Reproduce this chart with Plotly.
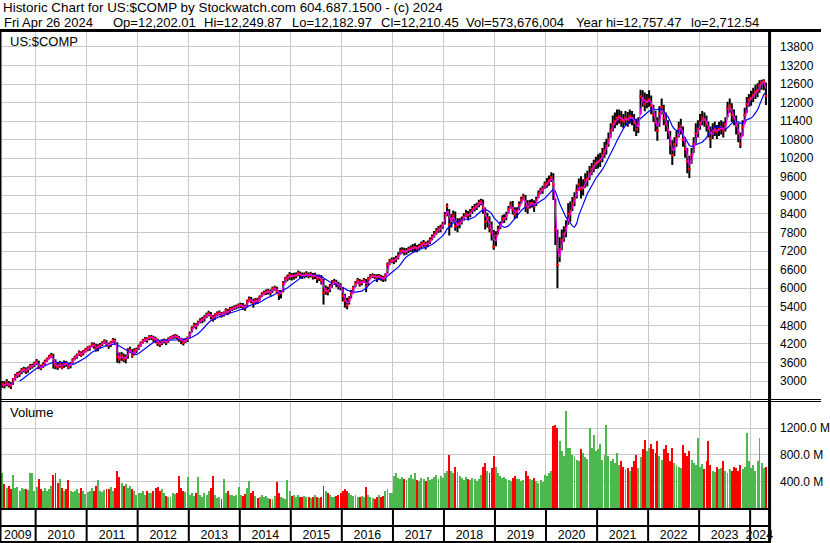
import pandas as pd
import plotly.graph_objects as go

# ---------------- data (semi-monthly samples) ----------------
first_date = pd.Timestamp("2009-04-23")
last_date = pd.Timestamp("2024-04-23")
dates = [pd.Timestamp(y, m, d) for y in range(2009, 2025) for m in range(1, 13) for d in (8, 23)
         if first_date <= pd.Timestamp(y, m, d) <= last_date]

close = [
    2830, 2900, 2870, 2950, 2880, 2850, 3050, 3150, 3220, 3250, 3350, 3380, 3330, 3400, 3480, 3480, 3570,
    3620, 3450, 3420, 3520, 3620, 3700, 3780, 3830, 3600, 3500, 3460, 3560, 3440, 3580, 3560, 3440, 3560, 3680, 3760, 3830, 3920, 3850, 3940, 4000,
    4050, 4080, 4180, 4150, 4050, 4120, 4150, 4230, 4280, 4180, 4150, 4230, 4320, 4280, 3780, 3700, 3820, 3700, 3760, 3980, 4000, 3820, 3980, 4000,
    4120, 4220, 4300, 4350, 4330, 4420, 4420, 4370, 4350, 4230, 4180, 4280, 4300, 4250, 4350, 4400, 4420, 4460, 4430, 4350, 4330, 4240, 4320, 4380,
    4520, 4700, 4800, 4780, 4880, 4950, 4980, 5060, 5130, 5180, 5100, 5000, 5120, 5180, 5200, 5120, 5180, 5280, 5220, 5320, 5340, 5380, 5400, 5440,
    5450, 5400, 5380, 5560, 5650, 5600, 5520, 5600, 5580, 5700, 5800, 5850, 5880, 5900, 5860, 5980, 6000, 5920, 5800, 5850, 6150, 6300, 6350, 6420,
    6380, 6400, 6420, 6480, 6430, 6400, 6420, 6460, 6400, 6450, 6380, 6420, 6300, 6350, 6250, 5850, 5950, 5880, 6050, 6180, 6200, 6150, 6080, 6050,
    5750, 5600, 5450, 5650, 5850, 6000, 6150, 6250, 6150, 6200, 6250, 6050, 6300, 6380, 6400, 6380, 6350, 6380, 6330, 6300, 6400, 6750, 6850, 6900,
    6900, 6950, 7050, 7200, 7220, 7180, 7200, 7250, 7280, 7300, 7320, 7280, 7350, 7420, 7450, 7380, 7450, 7550, 7650, 7750, 7850, 7900, 7950, 8050,
    8350, 8650, 8050, 8250, 8350, 8000, 8050, 8100, 8200, 8300, 8400, 8350, 8450, 8550, 8600, 8650, 8750, 8800, 8600, 8150, 8250, 7950, 7800, 7350,
    7700, 7900, 8050, 8250, 8250, 8350, 8550, 8700, 8550, 8380, 8500, 8700, 8850, 8950, 8650, 8600, 8750, 8750, 8650, 8850, 9050, 9150, 9200, 9350,
    9400, 9480, 9580, 9350, 7900, 6750, 7250, 7550, 7750, 7950, 8400, 8500, 8750, 8900, 9150, 9350, 9200, 9250, 9500, 9550, 9700, 9850, 9950, 10050,
    10100, 10150, 10300, 10450, 10600, 10800, 11100, 11300, 11400, 11500, 11550, 11450, 11400, 11500, 11450, 11550, 11500, 11350, 11150, 11300, 12200, 12150, 11950, 12050,
    12100, 11900, 11600, 11350, 11100, 11650, 11850, 11500, 11300, 11100, 10650, 10300, 10650, 10850, 11150, 11250, 10800, 10500, 10100, 9850, 10300, 10650, 11000, 11150,
    11350, 11500, 11450, 11300, 11150, 10850, 11100, 11150, 11050, 11150, 11200, 11100, 11300, 11800, 11900, 11600, 11500, 11250, 11000, 10650, 11200, 11600, 11950, 12100,
    12150, 12250, 12350, 12400, 12550, 12650, 12700, 12210,
]

high = [
    2950, 3000, 2990, 3060, 3000, 2960, 3100, 3230, 3290, 3330, 3420, 3460, 3440, 3470, 3550, 3560, 3630,
    3710, 3660, 3530, 3600, 3690, 3760, 3850, 3910, 3880, 3700, 3620, 3650, 3600, 3660, 3650, 3580, 3620, 3740, 3820, 3890, 3990, 3960, 4000, 4060,
    4120, 4150, 4250, 4240, 4200, 4190, 4230, 4290, 4350, 4320, 4240, 4290, 4390, 4370, 4250, 3920, 3940, 3890, 3860, 4060, 4110, 4030, 4060, 4080,
    4180, 4280, 4360, 4420, 4410, 4480, 4490, 4460, 4430, 4370, 4290, 4340, 4370, 4350, 4410, 4450, 4490, 4520, 4500, 4450, 4400, 4360, 4380, 4440,
    4600, 4770, 4880, 4870, 4950, 5030, 5070, 5130, 5210, 5270, 5230, 5130, 5190, 5250, 5280, 5230, 5250, 5350, 5330, 5390, 5410, 5450, 5470, 5510,
    5530, 5520, 5470, 5630, 5730, 5720, 5660, 5680, 5690, 5770, 5870, 5920, 5960, 5980, 5960, 6050, 6080, 6050, 5940, 5940, 6230, 6370, 6440, 6520,
    6490, 6500, 6510, 6570, 6540, 6510, 6510, 6550, 6510, 6530, 6490, 6500, 6440, 6440, 6420, 6300, 6090, 6050, 6140, 6260, 6300, 6270, 6210, 6160,
    6040, 5820, 5690, 5740, 5940, 6080, 6230, 6330, 6300, 6270, 6330, 6300, 6370, 6460, 6480, 6460, 6450, 6460, 6430, 6400, 6480, 6830, 6940, 6990,
    7000, 7050, 7160, 7310, 7320, 7310, 7300, 7340, 7380, 7430, 7450, 7400, 7440, 7510, 7560, 7510, 7540, 7640, 7740, 7850, 7950, 8010, 8050, 8150,
    8460, 8740, 8560, 8390, 8510, 8480, 8260, 8260, 8320, 8420, 8540, 8500, 8560, 8660, 8720, 8760, 8860, 8890, 8870, 8610, 8440, 8330, 8160, 7880,
    7840, 8020, 8160, 8360, 8390, 8470, 8660, 8800, 8820, 8620, 8620, 8800, 8960, 9050, 9010, 8840, 8860, 8880, 8840, 8960, 9160, 9250, 9310, 9450,
    9560, 9640, 9750, 9720, 8900, 7900, 7650, 7900, 8000, 8200, 8750, 8800, 8950, 9100, 9350, 9550, 9620, 9520, 9720, 9800, 9950, 10050, 10150, 10250,
    10330, 10380, 10530, 10730, 10830, 11030, 11330, 11580, 11680, 11780, 11780, 11730, 11630, 11730, 11700, 11780, 11730, 11630, 11480, 11530, 12420, 12400, 12330, 12280,
    12400, 12230, 11930, 11730, 11530, 11880, 12130, 11930, 11680, 11430, 11080, 10780, 10880, 11080, 11380, 11480, 11230, 10880, 10530, 10280, 10530, 10880, 11330, 11430,
    11630, 11730, 11680, 11580, 11380, 11230, 11330, 11380, 11280, 11380, 11430, 11380, 11530, 12030, 12130, 11980, 11780, 11580, 11330, 11030, 11430, 11830, 12180, 12280,
    12380, 12480, 12580, 12630, 12720, 12740, 12757, 12650,
]

low = [
    2712, 2780, 2760, 2830, 2790, 2740, 2880, 3020, 3100, 3130, 3220, 3280, 3230, 3270, 3360, 3400, 3450,
    3520, 3380, 3350, 3420, 3510, 3620, 3700, 3740, 3400, 3380, 3360, 3430, 3380, 3430, 3460, 3380, 3410, 3560, 3670, 3720, 3810, 3780, 3830, 3920,
    3960, 3980, 4090, 4040, 3950, 3960, 4070, 4130, 4200, 4110, 4040, 4100, 4230, 4180, 3590, 3570, 3650, 3610, 3570, 3720, 3900, 3750, 3830, 3910,
    4000, 4110, 4210, 4270, 4240, 4320, 4330, 4270, 4230, 4130, 4100, 4160, 4220, 4160, 4240, 4330, 4350, 4370, 4350, 4270, 4190, 4150, 4230, 4260,
    4370, 4570, 4710, 4670, 4790, 4860, 4870, 4920, 5030, 5090, 4990, 4920, 4980, 5090, 5120, 5050, 5080, 5170, 5130, 5200, 5260, 5300, 5320, 5350,
    5360, 5300, 5270, 5410, 5560, 5510, 5370, 5470, 5490, 5600, 5710, 5770, 5780, 5800, 5760, 5850, 5920, 5850, 5620, 5670, 5870, 6170, 6220, 6270,
    6250, 6280, 6320, 6390, 6320, 6300, 6320, 6350, 6320, 6350, 6280, 6300, 6170, 6230, 6120, 5470, 5790, 5770, 5870, 6020, 6110, 6030, 5960, 5930,
    5570, 5370, 5320, 5470, 5670, 5830, 6030, 6140, 6050, 6090, 6170, 5870, 6090, 6290, 6330, 6300, 6200, 6270, 6240, 6200, 6220, 6470, 6750, 6810,
    6780, 6840, 6930, 7080, 7120, 7060, 7080, 7140, 7180, 7160, 7160, 7160, 7220, 7300, 7340, 7250, 7320, 7430, 7550, 7640, 7730, 7790, 7810, 7920,
    8060, 8330, 7700, 7960, 8160, 7860, 7810, 7940, 8060, 8180, 8290, 8210, 8290, 8410, 8480, 8530, 8620, 8680, 8410, 7900, 7960, 7810, 7540, 7240,
    7360, 7740, 7910, 8110, 8110, 8200, 8410, 8580, 8380, 8240, 8260, 8520, 8730, 8840, 8460, 8410, 8580, 8610, 8460, 8660, 8910, 9040, 9050, 9210,
    9250, 9310, 9430, 8850, 7400, 6000, 6850, 7230, 7500, 7650, 8050, 8150, 8500, 8650, 8900, 9150, 8900, 9000, 9250, 9300, 9500, 9650, 9750, 9850,
    9870, 9920, 10070, 10220, 10320, 10570, 10870, 11070, 11170, 11270, 11320, 11220, 11170, 11270, 11220, 11320, 11270, 11070, 10920, 11020, 11620, 11870, 11720, 11820,
    11870, 11620, 11370, 11070, 10770, 11220, 11620, 11270, 11070, 10820, 10320, 9980, 10270, 10570, 10870, 10970, 10570, 10220, 9720, 9560, 10020, 10370, 10670, 10870,
    11120, 11270, 11220, 11070, 10870, 10530, 10820, 10920, 10820, 10920, 10970, 10870, 11070, 11520, 11670, 11370, 11270, 10970, 10720, 10530, 10920, 11320, 11670, 11870,
    11900, 12020, 12120, 12170, 12320, 12420, 12400, 11920,
]

volume_m = [
    470, 520, 360, 300, 330, 280, 490, 300, 320, 260, 300, 280, 290, 270, 530, 520, 260,
    310, 430, 280, 260, 300, 250, 280, 330, 500, 520, 380, 440, 300, 260, 280, 420, 260, 240, 250, 280, 230, 300, 260, 210,
    240, 260, 300, 250, 330, 420, 260, 240, 270, 280, 290, 320, 260, 300, 560, 470, 380, 330, 360, 300, 330, 280, 250, 200,
    230, 220, 250, 200, 260, 230, 220, 250, 300, 320, 260, 280, 220, 180, 170, 160, 230, 210, 220, 480, 300, 250, 240, 460,
    200, 230, 180, 220, 460, 190, 170, 220, 200, 260, 300, 480, 190, 150, 170, 140, 430, 230, 260, 200, 190, 180, 200, 310,
    200, 180, 210, 300, 410, 220, 260, 180, 150, 160, 200, 170, 180, 150, 140, 130, 180, 390, 220, 160, 150, 140, 420, 250,
    180, 200, 170, 190, 160, 170, 180, 160, 170, 150, 160, 200, 170, 150, 160, 330, 260, 220, 190, 170, 160, 180, 200, 230,
    260, 280, 250, 220, 200, 180, 190, 170, 160, 180, 170, 320, 200, 160, 150, 140, 170, 200, 160, 180, 250, 280, 230, 220,
    480, 520, 450, 430, 470, 440, 420, 450, 490, 430, 520, 420, 400, 450, 430, 410, 460, 420, 440, 470, 500, 430, 480, 450,
    520, 560, 800, 560, 520, 620, 540, 480, 450, 420, 470, 440, 420, 450, 430, 410, 440, 500, 620, 680, 560, 520, 600, 780,
    620, 520, 480, 450, 470, 430, 420, 400, 450, 480, 430, 440, 400, 420, 560, 480, 430, 420, 450, 400, 380, 420, 390, 500,
    480, 520, 560, 1230, 1250, 1200, 1000, 850, 780, 1450, 900, 900, 800, 760, 720, 700, 880, 820, 760, 740, 1200, 900, 1100, 850,
    880, 960, 720, 800, 1250, 780, 700, 740, 680, 820, 640, 700, 620, 580, 600, 560, 620, 700, 800, 600, 760, 880, 1020, 850,
    900, 960, 880, 820, 1000, 780, 720, 880, 950, 820, 700, 900, 680, 640, 620, 600, 950, 820, 780, 850, 720, 680, 640, 1050,
    620, 660, 580, 700, 1000, 650, 560, 540, 620, 580, 600, 700, 560, 520, 580, 560, 620, 600, 560, 640, 580, 620, 1130, 700,
    600, 640, 560, 700, 1050, 680, 600, 620,
]

price_ticks = list(range(3000, 14400, 600))
volume_ticks = [400, 800, 1200]
volume_tick_text = ["400.0 M", "800.0 M", "1200.0 M"]
year_list = list(range(2009, 2025))

header_1 = "Historic Chart for US:$COMP by Stockwatch.com 604.687.1500 - (c) 2024"
header_2_parts = ["Fri Apr 26 2024", "Op=12,202.01", "Hi=12,249.87", "Lo=12,182.97", "Cl=12,210.45",
                  "Vol=573,676,004", "Year hi=12,757.47", "lo=2,712.54"]
header_2_x = [2, 112, 204, 293, 383, 469, 580, 697]

assert len(dates) == len(close) == len(high) == len(low) == len(volume_m)

# ---------------- derived series ----------------
s_close = pd.Series(close)
ma_fast = s_close.rolling(2).mean()
ma_slow = s_close.rolling(10).mean()

vol_colors = ["#a0a0a0"] + ["#4db84d" if c >= p else "#ff0000" for p, c in zip(close[:-1], close[1:])]

hl_x, hl_y = [], []
for d, h, l in zip(dates, high, low):
    hl_x += [d, d, None]
    hl_y += [l, h, None]

# ---------------- layout geometry ----------------
W, H = 830, 543
FONT = "Liberation Sans, Arial, sans-serif"


def py(p):
    return 1 - p / H


def px(p):
    return p / W


x_left = pd.Timestamp("2009-04-21")
x_right = pd.Timestamp("2024-05-12")
x_domain = [0, px(777)]
boundaries = [pd.Timestamp(y, 1, 1) for y in year_list if pd.Timestamp(y, 1, 1) > x_left]
year_mid = []
for y in year_list:
    a = max(x_left, pd.Timestamp(y, 1, 1))
    b = min(x_right, pd.Timestamp(y + 1, 1, 1))
    year_mid.append(a + (b - a) / 2)

fig = go.Figure()
fig.add_trace(go.Scatter(x=hl_x, y=hl_y, mode="lines", line=dict(color="black", width=2),
                         hoverinfo="skip", xaxis="x", yaxis="y"))
fig.add_trace(go.Scatter(x=dates, y=close, mode="markers",
                         marker=dict(symbol="square", size=2.5, color="#ff0000", line=dict(width=0)),
                         hoverinfo="skip", xaxis="x", yaxis="y"))
fig.add_trace(go.Scatter(x=dates, y=ma_slow, mode="lines", line=dict(color="#0000ff", width=1.2),
                         hoverinfo="skip", xaxis="x", yaxis="y"))
fig.add_trace(go.Scatter(x=dates, y=ma_fast, mode="lines", line=dict(color="#ff00ff", width=1.2),
                         hoverinfo="skip", xaxis="x", yaxis="y"))
fig.add_trace(go.Bar(x=dates, y=volume_m, marker=dict(color=vol_colors, line=dict(width=0)),
                     width=14 * 86400000, hoverinfo="skip", xaxis="x2", yaxis="y2"))

grid = "#c8c8c8"
fig.update_layout(
    width=W, height=H, autosize=False,
    margin=dict(l=0, r=0, t=0, b=0, pad=0),
    paper_bgcolor="white", plot_bgcolor="white",
    showlegend=False, hovermode=False, bargap=0,
    font=dict(family=FONT, size=12, color="black"),
    xaxis=dict(domain=x_domain, range=[x_left, x_right], type="date", anchor="y",
               showticklabels=False, ticks="", showgrid=True, gridcolor=grid, gridwidth=1,
               tickmode="array", tickvals=boundaries, zeroline=False, showline=False),
    yaxis=dict(domain=[py(399), py(32)], range=[2418, 14283], anchor="x", side="right",
               tickmode="array", tickvals=price_ticks, ticktext=[str(v) for v in price_ticks],
               showgrid=True, gridcolor=grid, gridwidth=1, zeroline=False, showline=False,
               ticks="outside", ticklen=4, tickcolor="rgba(0,0,0,0)", ticklabelstandoff=4,
               tickfont=dict(family=FONT, size=12, color="black")),
    xaxis2=dict(domain=x_domain, range=[x_left, x_right], type="date", anchor="y2", matches="x",
                tickmode="array", tickvals=year_mid, ticktext=[str(y) for y in year_list],
                showgrid=False, ticks="", ticklabelstandoff=18,
                minor=dict(tickmode="array", tickvals=boundaries, showgrid=True, gridcolor=grid,
                           gridwidth=1, ticks=""),
                tickfont=dict(family=FONT, size=12.4, color="black"),
                zeroline=False, showline=False),
    yaxis2=dict(domain=[py(508), py(402)], range=[0, 1590], anchor="x2", side="right",
                tickmode="array", tickvals=volume_ticks, ticktext=volume_tick_text,
                showgrid=True, gridcolor=grid, gridwidth=1, zeroline=False, showline=False,
                ticks="outside", ticklen=4, tickcolor="rgba(0,0,0,0)", ticklabelstandoff=4,
                tickfont=dict(family=FONT, size=12, color="black")),
)

shapes = []


def hline(y, x0, x1, w):
    shapes.append(dict(type="line", xref="paper", yref="paper", x0=px(x0), x1=px(x1),
                       y0=py(y), y1=py(y), line=dict(color="black", width=w)))


def vline(x, y0, y1, w):
    shapes.append(dict(type="line", xref="paper", yref="paper", x0=px(x), x1=px(x),
                       y0=py(y0), y1=py(y1), line=dict(color="black", width=w)))


hline(30.5, 0, 830, 3)
hline(399.5, 0, 830, 1)
hline(401.5, 0, 830, 1)
hline(509, 0, 778, 2)
hline(526, 0, 778, 2)
hline(542, 0, 778, 2)
vline(0.5, 30, 543, 2)
vline(778, 30, 543, 3)
for b in boundaries:
    shapes.append(dict(type="line", xref="x", yref="paper", x0=b, x1=b, y0=py(509), y1=py(542),
                       line=dict(color="black", width=2)))
fig.update_layout(shapes=shapes)

annotations = [
    dict(text=header_1, x=px(1.5), y=py(7.5), xanchor="left", yanchor="middle",
         font=dict(family=FONT, size=13.4, color="black")),
    dict(text="US:$COMP", x=px(8.5), y=py(41), xanchor="left", yanchor="middle",
         font=dict(family=FONT, size=13, color="black")),
    dict(text="Volume", x=px(8), y=py(413), xanchor="left", yanchor="middle",
         font=dict(family=FONT, size=13, color="black")),
]
for t, xx in zip(header_2_parts, header_2_x):
    annotations.append(dict(text=t, x=px(xx), y=py(22), xanchor="left", yanchor="middle",
                            font=dict(family=FONT, size=13, color="black")))
for a in annotations:
    a.update(xref="paper", yref="paper", showarrow=False, xshift=0, yshift=0)
fig.update_layout(annotations=annotations)

fig.write_html("out.html", config={"displayModeBar": False, "staticPlot": True},
               post_script="document.body.style.margin='0';document.body.style.overflow='hidden';")
